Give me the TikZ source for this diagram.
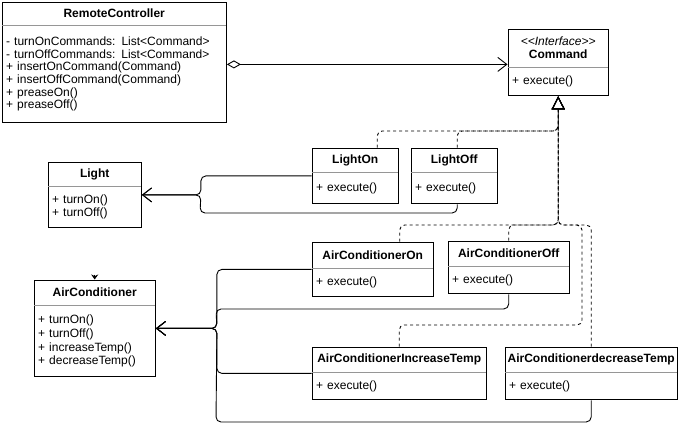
\documentclass[tikz,border=0pt]{standalone}
\usepackage{fontspec}
\setmainfont{Liberation Sans}
\usetikzlibrary{arrows.meta,positioning,fit}
\definecolor{sepgrey}{RGB}{150,150,150}

\begin{document}
\begin{tikzpicture}[x=1pt,y=-1pt,
  every node/.style={font=\fontsize{12}{13}\selectfont},
  hd/.style={anchor=north west,inner sep=0pt,align=center,
             font=\fontsize{12}{13}\selectfont\bfseries},
  bd/.style={inner xsep=4pt,inner ysep=0pt,align=left},
  clsbox/.style={draw,inner sep=0pt,line width=1pt},
  divline/.style={draw=sepgrey,line width=0.8pt},
  agg/.style={{Diamond[open,length=14pt,width=8pt]}-{Straight Barb[length=9pt,width=14pt]},line width=0.9pt},
  real/.style={-{Triangle[open,length=13pt,width=13pt]},dash pattern=on 3pt off 3pt,
               rounded corners=5pt,line width=0.9pt},
  dep/.style={-{Straight Barb[length=9pt,width=14pt]},rounded corners=5pt,line width=0.9pt}
]
\useasboundingbox (0,0) rectangle (681,437);

% classes
\node[hd,minimum width=224pt,minimum height=23pt] (rc-h) at (2,2) {RemoteController};
\node[bd,text width=216pt,minimum height=97pt,below=0pt of rc-h,
      font=\fontsize{12}{12.6}\selectfont] (rc-b)
  {- turnOnCommands: List<Command>\\ - turnOffCommands: List<Command>\\
   + insertOnCommand(Command)\\ + insertOffCommand(Command)\\
   + preaseOn()\\ + preaseOff()};
\node[clsbox,fit=(rc-h)(rc-b)] (rc) {};
\draw[divline] (rc-h.south west) -- (rc-h.south east);

\node[hd,minimum width=100pt,minimum height=38pt] (cmd-h) at (508,29)
  {{\mdseries\itshape <{}<Interface>{}>}\\ Command};
\node[bd,text width=92pt,minimum height=28pt,below=0pt of cmd-h] (cmd-b) {+ execute()};
\node[clsbox,fit=(cmd-h)(cmd-b)] (cmd) {};
\draw[divline] (cmd-h.south west) -- (cmd-h.south east);

\node[hd,minimum width=86pt,minimum height=24pt] (lon-h) at (312,148) {LightOn};
\node[bd,text width=78pt,minimum height=31pt,below=0pt of lon-h] (lon-b) {+ execute()};
\node[clsbox,fit=(lon-h)(lon-b)] (lon) {};
\draw[divline] (lon-h.south west) -- (lon-h.south east);

\node[hd,minimum width=86pt,minimum height=24pt] (loff-h) at (411,148) {LightOff};
\node[bd,text width=78pt,minimum height=31pt,below=0pt of loff-h] (loff-b) {+ execute()};
\node[clsbox,fit=(loff-h)(loff-b)] (loff) {};
\draw[divline] (loff-h.south west) -- (loff-h.south east);

\node[hd,minimum width=93pt,minimum height=24pt] (light-h) at (48,162) {Light};
\node[bd,text width=85pt,minimum height=41pt,below=0pt of light-h] (light-b)
  {+ turnOn()\\ + turnOff()};
\node[clsbox,fit=(light-h)(light-b)] (light) {};
\draw[divline] (light-h.south west) -- (light-h.south east);

\node[hd,minimum width=121pt,minimum height=26pt] (acon-h) at (312,242) {AirConditionerOn};
\node[bd,text width=113pt,minimum height=28pt,below=0pt of acon-h] (acon-b) {+ execute()};
\node[clsbox,fit=(acon-h)(acon-b)] (acon) {};
\draw[divline] (acon-h.south west) -- (acon-h.south east);

\node[hd,minimum width=121pt,minimum height=25pt] (acoff-h) at (448,241) {AirConditionerOff};
\node[bd,text width=113pt,minimum height=27pt,below=0pt of acoff-h] (acoff-b) {+ execute()};
\node[clsbox,fit=(acoff-h)(acoff-b)] (acoff) {};
\draw[divline] (acoff-h.south west) -- (acoff-h.south east);

\node[hd,minimum width=174pt,minimum height=25pt] (acinc-h) at (312,347) {AirConditionerIncreaseTemp};
\node[bd,text width=166pt,minimum height=27pt,below=0pt of acinc-h] (acinc-b) {+ execute()};
\node[clsbox,fit=(acinc-h)(acinc-b)] (acinc) {};
\draw[divline] (acinc-h.south west) -- (acinc-h.south east);

\node[hd,minimum width=172pt,minimum height=25pt] (acdec-h) at (505,347) {AirConditionerdecreaseTemp};
\node[bd,text width=164pt,minimum height=27pt,below=0pt of acdec-h] (acdec-b) {+ execute()};
\node[clsbox,fit=(acdec-h)(acdec-b)] (acdec) {};
\draw[divline] (acdec-h.south west) -- (acdec-h.south east);

\node[hd,minimum width=121pt,minimum height=25pt] (ac-h) at (34,280) {AirConditioner};
\node[bd,text width=113pt,minimum height=71pt,below=0pt of ac-h,
      font=\fontsize{12}{13.7}\selectfont] (ac-b)
  {+ turnOn()\\ + turnOff()\\ + increaseTemp()\\ + decreaseTemp()};
\node[clsbox,fit=(ac-h)(ac-b)] (ac) {};
\draw[divline] (ac-h.south west) -- (ac-h.south east);

% aggregation
\draw[agg] ([yshift=-2pt]rc.east) -- ([yshift=-2pt]cmd.west);

% realizations
\draw[real] ([xshift=22pt]lon.north) |- (cmd.south |- 0,131) -- (cmd.south);
\draw[real] ([xshift=3pt]loff.north) |- (cmd.south |- 0,131) -- (cmd.south);
\draw[real] ([xshift=27pt]acon.north) |- (cmd.south |- 0,225) -- (cmd.south);
\draw[real] (acoff.north) |- (cmd.south |- 0,225) -- (cmd.south);
\draw[real] (acinc.north) |- (582,325) |- (cmd.south |- 0,225) -- (cmd.south);
\draw[real] (acdec.north) |- (cmd.south |- 0,225) -- (cmd.south);

% dependencies
\draw[dep] (lon.west) -| ([xshift=59pt]light.east) -- (light.east);
\draw[dep] ([xshift=3pt]loff.south) |- (200,213) -- ([xshift=59pt]light.east) -- (light.east);
\draw[dep] (acon.west) -| ([xshift=61pt]ac.east) -- (ac.east);
\draw[dep] (acoff.south) |- (216,309) -- ([xshift=61pt]ac.east) -- (ac.east);
\draw[dep] (acinc.west) -| ([xshift=61pt]ac.east) -- (ac.east);
\draw[dep] (acdec.south) |- (216,422) -- ([xshift=61pt]ac.east) -- (ac.east);

\draw[-{Stealth[length=5pt,width=7pt]},line width=0.8pt] ([yshift=5pt]ac.north) -- (ac.north);
\end{tikzpicture}
\end{document}
